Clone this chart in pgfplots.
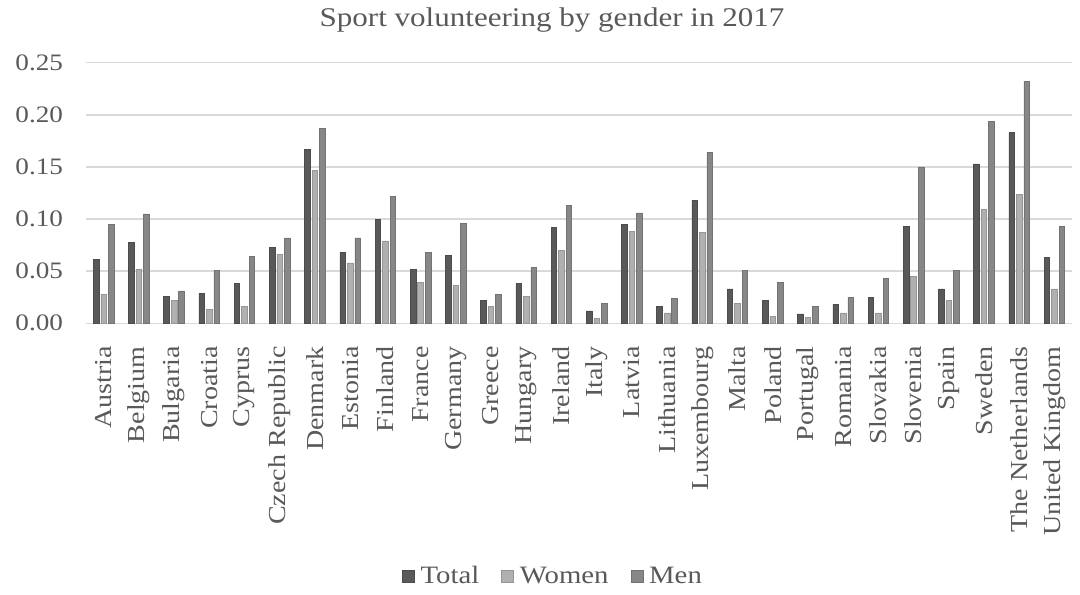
\documentclass[border=0pt]{standalone}
\usepackage{fontspec}
\setmainfont[FakeStretch=1.15]{Liberation Serif}
\usepackage{pgfplots}
\usepackage{pgfplotstable}
\pgfplotsset{compat=1.18}

\definecolor{cTotal}{HTML}{595959}
\definecolor{cWomen}{HTML}{B0B0B0}
\definecolor{cMen}{HTML}{878787}
\definecolor{gridgray}{HTML}{D9D9D9}
\definecolor{txt}{HTML}{595959}

% values per country, in the order of the x tick labels
\pgfplotstableread{
Total Women Men
0.061 0.028 0.095
0.078 0.052 0.105
0.026 0.022 0.031
0.029 0.013 0.051
0.038 0.016 0.064
0.073 0.066 0.082
0.167 0.147 0.187
0.068 0.058 0.082
0.100 0.079 0.122
0.052 0.039 0.068
0.065 0.036 0.096
0.022 0.016 0.028
0.038 0.026 0.054
0.092 0.070 0.113
0.012 0.005 0.019
0.095 0.088 0.106
0.016 0.010 0.024
0.118 0.087 0.164
0.033 0.019 0.051
0.022 0.007 0.039
0.009 0.006 0.016
0.018 0.010 0.025
0.025 0.010 0.043
0.093 0.045 0.150
0.033 0.022 0.051
0.153 0.109 0.194
0.183 0.124 0.232
0.063 0.033 0.093
}\sport

\begin{document}
\begin{tikzpicture}
\begin{axis}[
  at={(0,0)}, anchor=south west,
  scale only axis, width=493pt, height=130.3pt,
  xmin=-0.5, xmax=27.5, ymin=0, ymax=0.25,
  ybar=0.95pt, bar width=2.8pt,
  axis line style={draw=none},
  major tick length=0pt,
  ymajorgrids, grid style={gridgray, line width=0.75pt},
  ytick={0,0.05,0.1,0.15,0.2,0.25},
  yticklabel style={/pgf/number format/fixed, /pgf/number format/fixed zerofill,
    /pgf/number format/precision=2, /pgf/number format/assume math mode=true},
  yticklabel style={font=\fontsize{11.8}{13}\selectfont, text=txt, xshift=-8pt},
  xtick=data,
  xticklabels={Austria, Belgium, Bulgaria, Croatia, Cyprus, Czech Republic, Denmark, Estonia, Finland, France, Germany, Greece, Hungary, Ireland, Italy, Latvia, Lithuania, Luxembourg, Malta, Poland, Portugal, Romania, Slovakia, Slovenia, Spain, Sweden, The Netherlands, United Kingdom},
  xticklabel style={rotate=90, anchor=east, font=\fontsize{12.2}{13}\selectfont, text=txt, xshift=-8pt},
  legend style={at={(0.4746,-0.972)}, anchor=center, draw=none, fill=none,
    legend columns=-1, font=\fontsize{12.5}{14}\selectfont, text=txt,
    /tikz/every odd column/.append style={column sep=1pt},
    /tikz/every even column/.append style={column sep=9pt}},
  legend image code/.code={\fill[#1] (0pt,-3pt) rectangle (6pt,3pt);},
]
\addplot[fill=cTotal, draw=cTotal!85!black, line width=0.3pt] table[x expr=\coordindex, y=Total] {\sport};
\addplot[fill=cWomen, draw=cWomen!85!black, line width=0.3pt] table[x expr=\coordindex, y=Women] {\sport};
\addplot[fill=cMen, draw=cMen!85!black, line width=0.3pt] table[x expr=\coordindex, y=Men] {\sport};
\legend{Total, Women, Men}
\end{axis}
\node[font=\fontsize{13.5}{16}\selectfont, text=txt] at (233pt,151.6pt) {Sport volunteering by gender in 2017};
\path (-43pt,-130.35pt) rectangle (497pt,161.65pt);
\end{tikzpicture}
\end{document}
